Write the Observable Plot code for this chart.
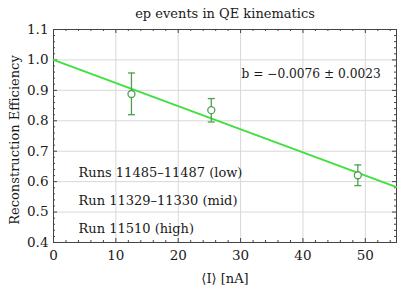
<!DOCTYPE html>
<html><head><meta charset="utf-8">
<script src="https://cdn.jsdelivr.net/npm/d3@7"></script>
<script src="https://cdn.jsdelivr.net/npm/@observablehq/plot@0.6"></script>
<style>body{margin:0;background:#fff}</style>
</head><body><div id="chart"></div>
<script>
const current = [12.5, 25.3, 48.8];
const efficiency = [0.888, 0.835, 0.621];
const errLow = [0.820, 0.796, 0.587];
const errHigh = [0.957, 0.873, 0.655];
const fitX = [0, 55];
const fitY = [1.0, 0.582];
const xMajor = [0, 10, 20, 30, 40, 50];
const xMinor = d3.range(0, 56, 2).filter(v => v % 10 !== 0);
const yMajor = [0.4, 0.5, 0.6, 0.7, 0.8, 0.9, 1.0, 1.1];
const yMinor = d3.range(0, 36).map(i => +(0.4 + i * 0.02).toFixed(2)).filter(v => Math.round(v * 100) % 10 !== 0 && v < 1.1);
const runLabels = ["Runs 11485\u201311487 (low)", "Run 11329\u201311330 (mid)", "Run 11510 (high)"];
const fitLabel = "b = \u22120.0076 \u00b1 0.0023";
const title = "ep events in QE kinematics";
const xLabel = "\u27e8I\u27e9 [nA]";
const yLabel = "Reconstruction Efficiency";

const pts = current.map((x, i) => ({x, y: efficiency[i], lo: errLow[i], hi: errHigh[i]}));
const fit = fitX.map((x, i) => ({x, y: fitY[i]}));

const W = 397, H = 286, mL = 53, mR = 1, mT = 29, mB = 44;
const iw = W - mL - mR, ih = H - mT - mB;
const font = "DejaVu Serif";
const ptColor = "#4f9f4f";
const ink = "#1a1a1a";
const capSymbol = {draw(ctx, size) { ctx.moveTo(-3.5, 0); ctx.lineTo(3.5, 0); }};
const runDy = [143, 171, 199];

const chart = Plot.plot({
  width: W, height: H,
  marginLeft: mL, marginRight: mR, marginTop: mT, marginBottom: mB,
  style: {fontFamily: font, fontSize: "13px", color: ink, background: "#fff"},
  x: {domain: [0, 55], label: null},
  y: {domain: [0.4, 1.1], label: null},
  marks: [
    Plot.ruleX(xMajor.filter(v => v > 0), {stroke: "#d8d8d8", strokeWidth: 1}),
    Plot.ruleY(yMajor.filter(v => v > 0.4 && v < 1.1), {stroke: "#d8d8d8", strokeWidth: 1}),
    // ticks
    Plot.tickX(xMajor, {x: d => d, insetTop: ih - 4, stroke: "#444"}),
    Plot.tickX(xMinor, {x: d => d, insetTop: ih - 2, stroke: "#444"}),
    Plot.tickX(xMajor, {x: d => d, insetBottom: ih - 4, stroke: "#444"}),
    Plot.tickX(xMinor, {x: d => d, insetBottom: ih - 2, stroke: "#444"}),
    Plot.tickY(yMajor, {y: d => d, insetRight: iw - 4, stroke: "#444"}),
    Plot.tickY(yMinor, {y: d => d, insetRight: iw - 2, stroke: "#444"}),
    Plot.tickY(yMajor, {y: d => d, insetLeft: iw - 4, stroke: "#444"}),
    Plot.tickY(yMinor, {y: d => d, insetLeft: iw - 2, stroke: "#444"}),
    Plot.frame({stroke: "#444"}),
    Plot.axisX({ticks: xMajor, tickSize: 0, tickPadding: 8, fontSize: 13.5, fill: ink}),
    Plot.axisY({ticks: yMajor, tickSize: 0, tickPadding: 5, tickFormat: d3.format(".1f"), fontSize: 13.5, fill: ink}),
    // fit line
    Plot.line(fit, {x: "x", y: "y", stroke: "#3ee03e", strokeWidth: 1.8}),
    // error bars
    Plot.ruleX(pts, {x: "x", y1: "lo", y2: "hi", stroke: ptColor, strokeWidth: 1.3}),
    Plot.dot(pts, {x: "x", y: "lo", symbol: capSymbol, stroke: ptColor, strokeWidth: 1.3}),
    Plot.dot(pts, {x: "x", y: "hi", symbol: capSymbol, stroke: ptColor, strokeWidth: 1.3}),
    Plot.dot(pts, {x: "x", y: "y", r: 3.5, stroke: ptColor, fill: "#fff", strokeWidth: 1.3}),
    // annotations
    Plot.text([fitLabel], {frameAnchor: "top-left", text: d => d, dx: 188, dy: 45, textAnchor: "start", lineAnchor: "middle", fontSize: 12.2, fill: ink}),
    ...runLabels.map((lab, i) => Plot.text([lab], {frameAnchor: "top-left", text: d => d, dx: 25, dy: runDy[i], textAnchor: "start", lineAnchor: "middle", fontSize: 13, fill: ink})),
    Plot.text([title], {frameAnchor: "top", text: d => d, dy: -16, lineAnchor: "middle", fontSize: 13, fill: ink}),
    Plot.text([xLabel], {frameAnchor: "bottom", text: d => d, dy: 36, lineAnchor: "middle", fontSize: 13, fill: ink}),
    Plot.text([yLabel], {frameAnchor: "left", text: d => d, dx: -39, dy: 4, rotate: -90, textAnchor: "middle", lineAnchor: "middle", fontSize: 13, fill: ink})
  ]
});
document.getElementById("chart").appendChild(chart);
</script>
</body></html>
